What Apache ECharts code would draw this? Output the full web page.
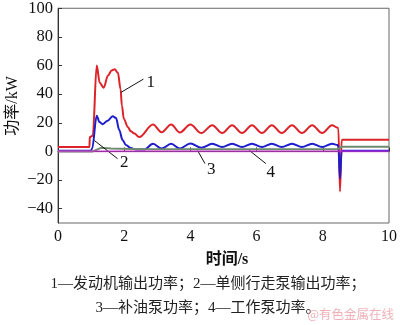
<!DOCTYPE html>
<html>
<head>
<meta charset="utf-8">
<script src="https://cdn.jsdelivr.net/npm/echarts@6/dist/echarts.min.js"></script>
<style>
  html, body { margin: 0; padding: 0; background: #fff; }
  #chart { width: 400px; height: 325px; }
</style>
</head>
<body>
<div id="chart"></div>
<script>
// Engine output power (curve 1), kW over time in s
const engineT = [0, 0.95, 0.96, 1.05, 1.17, 1.26, 1.38, 1.51, 1.62, 1.71, 1.81, 1.89, 1.93, 1.99, 2.11, 2.2, 2.31, 2.45,
  2.87, 3.13, 3.42, 3.68, 4.0, 4.33, 4.66, 4.96, 5.26, 5.56, 5.86, 6.16, 6.46, 6.76, 7.07, 7.37, 7.68, 7.98, 8.28,
  8.45, 8.47, 8.52, 8.57, 8.6, 10];
const enginePow = [3, 3, 10, 11, 60, 48, 44.5, 53, 56.5, 57.4, 55, 43.5, 32, 22.7, 17, 14, 12.5, 10,
  18.8, 13.4, 18.8, 13.2, 18.8, 12.8, 18.3, 12.8, 18.3, 12.8, 18.3, 12.8, 18.3, 12.8, 18.3, 12.8, 18.3, 12.8, 18.3,
  16.5, 16, -28, 8, 8.1, 8.1];

// Single-side travel pump output power (curve 2)
const travelT = [0, 1.0, 1.03, 1.17, 1.25, 1.35, 1.5, 1.65, 1.75, 1.85, 1.95, 2.05, 2.2, 2.35, 2.6,
  2.87, 3.13, 3.42, 3.68, 4.0, 4.33, 4.66, 4.96, 5.26, 5.56, 5.86, 6.16, 6.46, 6.76, 7.07, 7.37, 7.68, 7.98, 8.28,
  8.45, 8.47, 8.52, 8.57, 10];
const travelPow = [0.5, 0.5, 2, 25, 20.5, 19, 21.5, 24.5, 23.5, 15, 8, 4.5, 2.3, 1.3, 1.3,
  5.3, 2, 5.3, 2, 5.5, 2.6, 5.3, 3, 5.3, 3, 5.3, 3, 5.3, 3, 5.3, 3, 5.3, 3, 5.3,
  4.5, 3, -19, 0.5, 0.5];

// Charge pump power (curve 3)
const chargeT = [0, 1.05, 1.3, 1.6, 2.5, 8.45, 8.5, 8.58, 10];
const chargePow = [0, 0, 2.5, 2, 1.6, 1.6, 1, 3.3, 3.3];

// Working pump power (curve 4)
const workT = [0, 10];
const workPow = [0.2, 0.2];

// Axis tick labels
const xTicks = [0, 2, 4, 6, 8, 10];
const yTicks = [-40, -20, 0, 20, 40, 60, 80, 100];

// Curve number callouts: leader line ends and label anchor
const calloutNames = ['1', '2', '3', '4'];
const calloutFrom = [[1.90, 41.2], [1.10, 7.6], [4.22, 0.5], [5.78, 0.7]];
const calloutTo = [[2.58, 50.5], [1.80, -5.1], [4.44, -8.5], [6.28, -8.5]];
const calloutAt = [[2.80, 48.1], [2.00, -7.6], [4.63, -13], [6.43, -14.4]];

const zip = (t, v) => t.map((x, i) => [x, v[i]]);
const SERIF = '"Liberation Serif", "Noto Sans CJK SC", serif';

const chart = echarts.init(document.getElementById('chart'), null, { renderer: 'canvas' });

const lineBase = {
  type: 'line',
  showSymbol: false,
  symbol: 'none',
  smooth: 0.35,
  smoothMonotone: 'x',
  silent: true,
  animation: false
};

chart.setOption({
  animation: false,
  grid: {
    left: 58, right: 7, top: 7, bottom: 102,
    show: true, borderColor: '#666', borderWidth: 1, backgroundColor: 'transparent'
  },
  xAxis: {
    type: 'value', min: 0, max: 10, interval: 2,
    axisLine: { show: true, lineStyle: { color: '#333', width: 1 } },
    axisTick: { show: true, inside: true, length: 4, lineStyle: { color: '#333' } },
    axisLabel: {
      customValues: xTicks,
      color: '#111', fontSize: 16, fontFamily: SERIF, margin: 6
    },
    splitLine: { show: false }
  },
  yAxis: {
    type: 'value', min: -50, max: 100,
    axisLine: { show: true, lineStyle: { color: '#333', width: 1 } },
    axisTick: { show: true, inside: true, length: 4, customValues: yTicks, lineStyle: { color: '#333' } },
    axisLabel: {
      customValues: yTicks,
      color: '#111', fontSize: 16.5, fontFamily: SERIF, margin: 5,
      formatter: v => (v < 0 ? '\u2212' + Math.abs(v) : String(v))
    },
    splitLine: { show: false }
  },
  series: [
    Object.assign({}, lineBase, {
      name: '发动机输出功率',
      data: zip(engineT, enginePow),
      lineStyle: { color: '#dd2228', width: 2 },
      z: 2,
      markLine: {
        silent: true, symbol: 'none', animation: false,
        label: { show: false },
        lineStyle: { color: '#111', width: 1, type: 'solid' },
        data: calloutFrom.map((p, i) => [{ coord: p }, { coord: calloutTo[i] }])
      },
      markPoint: {
        silent: true, animation: false,
        symbol: 'circle', symbolSize: 1,
        itemStyle: { color: 'rgba(0,0,0,0)' },
        label: {
          show: true, position: 'inside', formatter: '{b}',
          color: '#111', fontSize: 17, fontFamily: SERIF
        },
        data: calloutAt.map((p, i) => ({ name: calloutNames[i], coord: p }))
      }
    }),
    Object.assign({}, lineBase, {
      name: '单侧行走泵输出功率',
      data: zip(travelT, travelPow),
      lineStyle: { color: '#1d1dcc', width: 2 },
      z: 3
    }),
    Object.assign({}, lineBase, {
      name: '补油泵功率',
      data: zip(chargeT, chargePow),
      smooth: false,
      lineStyle: { color: '#6f8a6c', width: 2 },
      z: 4
    }),
    Object.assign({}, lineBase, {
      name: '工作泵功率',
      data: zip(workT, workPow),
      smooth: false,
      lineStyle: { color: '#d030d8', width: 2, opacity: 0.65 },
      z: 5
    })
  ],
  graphic: [
    {
      type: 'text', x: 13, y: 106, rotation: Math.PI / 2,
      style: {
        text: '功率/kW', fill: '#111', font: '16px ' + SERIF,
        textAlign: 'center', textVerticalAlign: 'middle'
      }
    },
    {
      type: 'text', x: 227, y: 260,
      style: {
        text: '时间/s', fill: '#111', font: 'bold 16px ' + SERIF,
        textAlign: 'center', textVerticalAlign: 'middle'
      }
    },
    {
      type: 'text', x: 208, y: 284,
      style: {
        text: '1—发动机输出功率；2—单侧行走泵输出功率；', fill: '#222', font: '15px ' + SERIF,
        textAlign: 'center', textVerticalAlign: 'middle'
      }
    },
    {
      type: 'text', x: 208, y: 308,
      style: {
        text: '3—补油泵功率；4—工作泵功率。', fill: '#222', font: '15px ' + SERIF,
        textAlign: 'center', textVerticalAlign: 'middle'
      }
    },
    {
      type: 'text', x: 394, y: 314,
      style: {
        text: '@有色金属在线', fill: 'rgba(236,150,160,0.75)', font: '12.5px "Noto Sans CJK SC", sans-serif',
        textAlign: 'right', textVerticalAlign: 'middle'
      }
    }
  ]
});
</script>
</body>
</html>
